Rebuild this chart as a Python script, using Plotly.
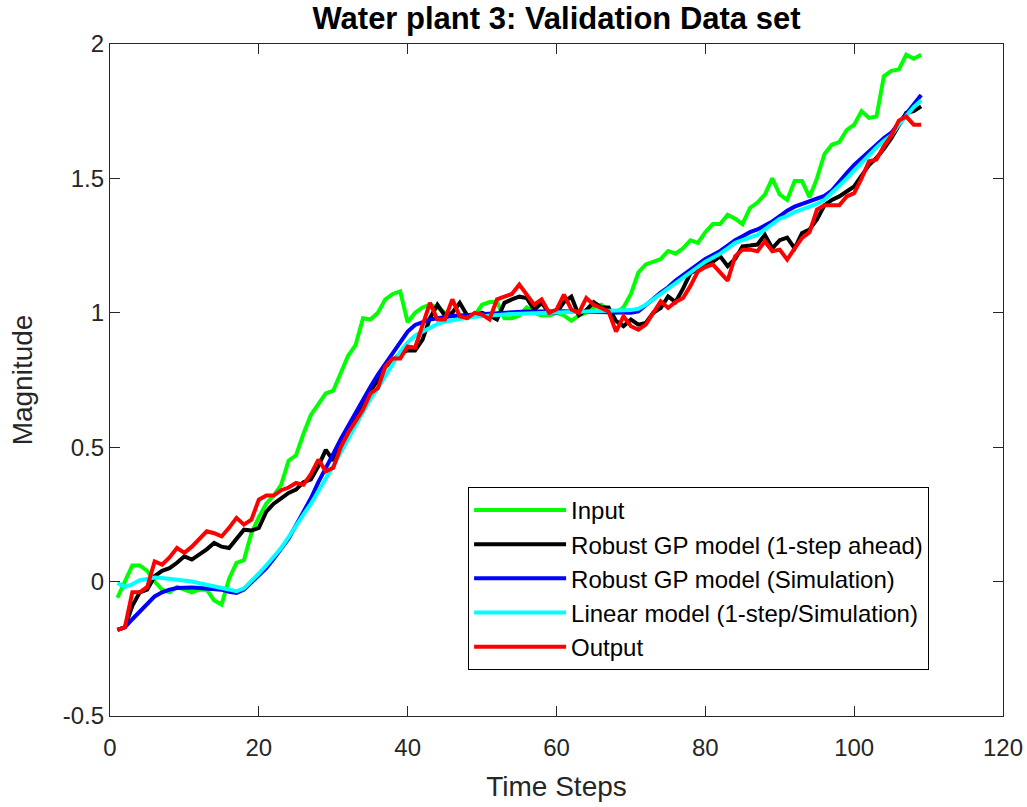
import plotly.graph_objects as go

t = list(range(1, 110))

input_vals = [-0.06, 0.0, 0.06, 0.06, 0.04, 0.0, -0.03, -0.04, -0.02, -0.03,
              -0.04, -0.03, -0.03, -0.07, -0.085, 0.01, 0.07, 0.08, 0.18, 0.24,
              0.29, 0.32, 0.36, 0.45, 0.47, 0.55, 0.62, 0.66, 0.70, 0.71,
              0.78, 0.84, 0.88, 0.98, 0.975, 1.0, 1.05, 1.07, 1.08, 0.965,
              1.0, 1.02, 1.03, 1.02, 1.0, 0.99, 0.98, 0.98, 0.99, 1.03,
              1.04, 1.04, 0.98, 0.98, 0.99, 1.02, 1.0, 0.99, 0.99, 1.0,
              0.99, 0.97, 0.99, 1.0, 1.02, 1.03, 1.01, 1.0, 1.02, 1.07,
              1.15, 1.18, 1.19, 1.2, 1.23, 1.22, 1.24, 1.27, 1.26, 1.3,
              1.33, 1.33, 1.365, 1.35, 1.33, 1.39, 1.41, 1.44, 1.5, 1.44,
              1.42, 1.49, 1.49, 1.43, 1.5, 1.59, 1.625, 1.635, 1.68, 1.70,
              1.75, 1.725, 1.73, 1.88, 1.9, 1.905, 1.96, 1.945, 1.96]

gp_one_step = [-0.18, -0.17, -0.09, -0.04, -0.03, 0.02, 0.04, 0.05, 0.07, 0.094,
               0.082, 0.1, 0.12, 0.144, 0.13, 0.125, 0.16, 0.193, 0.19, 0.2,
               0.26, 0.29, 0.31, 0.33, 0.342, 0.37, 0.38, 0.43, 0.49, 0.45,
               0.52, 0.56, 0.61, 0.66, 0.71, 0.75, 0.80, 0.82, 0.85, 0.86,
               0.86, 0.90, 0.98, 1.03, 0.99, 1.0, 1.037, 0.99, 0.99, 1.0,
               0.99, 0.975, 1.037, 1.05, 1.06, 1.055, 1.01, 1.037, 1.0, 1.0,
               1.04, 1.06, 0.99, 1.01, 1.04, 1.02, 1.02, 0.97, 0.95, 0.975,
               0.956, 0.962, 1.0, 1.018, 1.061, 1.04, 1.09, 1.148, 1.16, 1.18,
               1.19, 1.21, 1.173, 1.2, 1.247, 1.25, 1.254, 1.29, 1.24, 1.27,
               1.28, 1.24, 1.297, 1.31, 1.347, 1.40, 1.42, 1.433, 1.45, 1.47,
               1.51, 1.55, 1.576, 1.61, 1.65, 1.70, 1.744, 1.75, 1.768]

gp_sim = [-0.18, -0.17, -0.14, -0.11, -0.08, -0.055, -0.04, -0.03, -0.024, -0.022,
          -0.022, -0.024, -0.026, -0.028, -0.03, -0.038, -0.042, -0.03, -0.005, 0.02,
          0.05, 0.085, 0.12, 0.16, 0.21, 0.26, 0.31, 0.37, 0.42, 0.475,
          0.53, 0.58, 0.63, 0.68, 0.725, 0.77, 0.81, 0.855, 0.895, 0.93,
          0.955, 0.965, 0.975, 0.98, 0.985, 0.988, 0.99, 0.992, 0.994, 0.996,
          0.998, 1.0, 1.002, 1.003, 1.004, 1.005, 1.005, 1.006, 1.006, 1.006,
          1.006, 1.005, 1.005, 1.004, 1.004, 1.003, 1.002, 1.001, 1.0, 1.0,
          1.005, 1.03, 1.055, 1.075, 1.095, 1.12, 1.14, 1.16, 1.18, 1.2,
          1.215, 1.23, 1.25, 1.27, 1.285, 1.3, 1.31, 1.325, 1.34, 1.36,
          1.38, 1.395, 1.405, 1.415, 1.425, 1.435, 1.455, 1.49, 1.52, 1.55,
          1.575, 1.60, 1.625, 1.65, 1.67, 1.705, 1.74, 1.775, 1.81]

linear_model = [-0.005, -0.02, -0.01, 0.005, 0.01, 0.015, 0.013, 0.01, 0.007, 0.003,
                0.0, -0.006, -0.011, -0.016, -0.024, -0.03, -0.036, -0.025, 0.0, 0.03,
                0.06, 0.09, 0.125, 0.165, 0.21, 0.25, 0.29, 0.335, 0.385, 0.43,
                0.48, 0.53, 0.58, 0.63, 0.68, 0.72, 0.765, 0.81, 0.855, 0.89,
                0.915, 0.93, 0.945, 0.958, 0.967, 0.973, 0.978, 0.982, 0.985, 0.988,
                0.99, 0.992, 0.994, 0.996, 0.997, 0.998, 0.999, 1.0, 1.001, 1.002,
                1.003, 1.004, 1.005, 1.006, 1.006, 1.007, 1.008, 1.008, 1.009, 1.01,
                1.015, 1.03, 1.05, 1.07, 1.09, 1.112, 1.13, 1.15, 1.17, 1.19,
                1.205, 1.22, 1.24, 1.26, 1.27, 1.28, 1.29, 1.31, 1.33, 1.35,
                1.36, 1.375, 1.385, 1.395, 1.405, 1.42, 1.445, 1.475, 1.50, 1.53,
                1.56, 1.59, 1.615, 1.64, 1.66, 1.70, 1.735, 1.765, 1.79]

output_vals = [-0.18, -0.17, -0.04, -0.04, -0.02, 0.075, 0.063, 0.09, 0.125, 0.107,
               0.13, 0.16, 0.187, 0.18, 0.168, 0.2, 0.237, 0.212, 0.23, 0.305,
               0.32, 0.32, 0.34, 0.35, 0.367, 0.36, 0.40, 0.454, 0.41, 0.423,
               0.5, 0.553, 0.596, 0.64, 0.70, 0.72, 0.80, 0.83, 0.83, 0.875,
               0.87, 0.95, 1.037, 0.975, 0.975, 1.05, 0.987, 0.98, 1.0, 0.993,
               0.975, 1.05, 1.061, 1.07, 1.105, 1.068, 1.03, 1.05, 1.0, 1.012,
               1.068, 1.012, 1.0, 1.055, 1.03, 1.018, 1.005, 0.93, 0.987, 0.95,
               0.9375, 0.956, 1.0, 1.043, 1.018, 1.04, 1.055, 1.1, 1.154, 1.17,
               1.18, 1.15, 1.12, 1.21, 1.235, 1.235, 1.229, 1.266, 1.229, 1.235,
               1.198, 1.24, 1.279, 1.30, 1.384, 1.40, 1.40, 1.40, 1.433, 1.445,
               1.50, 1.564, 1.57, 1.62, 1.66, 1.715, 1.73, 1.70, 1.70]

series = [
    ("Input", input_vals, "#00FF00"),
    ("Robust GP model (1-step ahead)", gp_one_step, "#000000"),
    ("Robust GP model (Simulation)", gp_sim, "#0000FF"),
    ("Linear model (1-step/Simulation)", linear_model, "#00FFFF"),
    ("Output", output_vals, "#FF0000"),
]

x_ticks = [0, 20, 40, 60, 80, 100, 120]
y_ticks = [-0.5, 0, 0.5, 1, 1.5, 2]
y_tick_text = ["-0.5", "0", "0.5", "1", "1.5", "2"]

fig = go.Figure()
for i, (name, vals, color) in enumerate(series):
    fig.add_trace(go.Scatter(x=t, y=vals, mode="lines", name=name,
                             legendgroup=f"g{i}",
                             line=dict(color=color, width=4)))

axis_color = "#262626"
fig.update_layout(
    width=1027, height=807,
    margin=dict(l=110, r=24, t=44, b=91),
    paper_bgcolor="white", plot_bgcolor="white",
    font=dict(family="Liberation Sans, Arial, sans-serif", color=axis_color, size=24),
    title=dict(text="<b>Water plant 3: Validation Data set</b>", xref="paper", x=0.5,
               xanchor="center", y=0.978, yanchor="middle",
               font=dict(size=31, color="black")),
    showlegend=True,
    legend=dict(x=0.401, y=0.341, xanchor="left", yanchor="top",
                bgcolor="white", bordercolor="black", borderwidth=1,
                font=dict(size=24, color="black"), tracegroupgap=0,
                itemwidth=92),
)
fig.update_xaxes(range=[0, 120], tickvals=x_ticks, ticks="inside", ticklen=10,
                 tickcolor=axis_color, tickwidth=1.3, ticklabelstandoff=10,
                 automargin=False, tickfont=dict(size=24),
                 showline=True, linecolor=axis_color, linewidth=1.3, mirror="ticks",
                 showgrid=False, zeroline=False,
                 title=dict(text="Time Steps", font=dict(size=28), standoff=16))
fig.update_yaxes(range=[-0.5, 2], tickvals=y_ticks, ticktext=y_tick_text,
                 ticks="inside", ticklen=10, automargin=False, tickfont=dict(size=24),
                 tickcolor=axis_color, tickwidth=1.3,
                 showline=True, linecolor=axis_color, linewidth=1.3, mirror="ticks",
                 showgrid=False, zeroline=False,
                 title=dict(text="Magnitude", font=dict(size=28), standoff=21))

fig.write_html("out.html")
